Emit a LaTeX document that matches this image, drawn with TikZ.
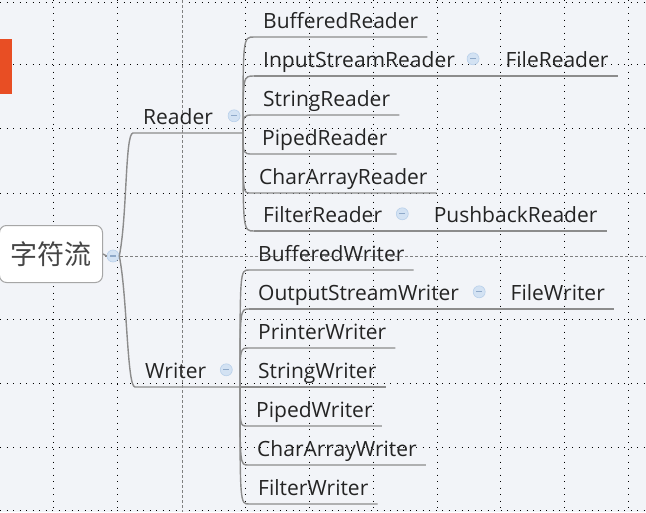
\documentclass[tikz,border=0pt]{standalone}
\usepackage{fontspec}
\setmainfont{Open Sans}
\newfontfamily\cjkfont{Noto Sans CJK SC}
\usetikzlibrary{calc,positioning}
\definecolor{bgcol}{HTML}{F2F4F8}
\definecolor{linecol}{HTML}{8C8C8C}
\definecolor{foldcol}{HTML}{D3E2F3}
\definecolor{foldline}{HTML}{B9D0EA}
\definecolor{minuscol}{HTML}{8FA9C9}
\definecolor{markcol}{HTML}{E84E24}
\definecolor{textcol}{HTML}{242424}
\begin{document}
\begin{tikzpicture}[
        x=1pt, y=-1pt,
        topic/.style={anchor=south west, font=\fontsize{21}{21}\selectfont, text=textcol,
            inner xsep=9pt, inner ysep=3pt, text height=15pt, text depth=5pt},
        roottopic/.style={draw=gray!70, fill=white, rounded corners=7pt, line width=1pt,
            minimum width=103pt, minimum height=57pt, inner sep=0pt, text=textcol!85,
            font=\cjkfont\fontsize{27}{27}\selectfont},
        branch/.style={draw=linecol, line width=1.4pt},
        fold/.style={circle, fill=foldcol, draw=foldline, line width=0.6pt, minimum size=12pt, inner sep=0pt,
            path picture={\draw[minuscol, line width=1.2pt]
                ([xshift=-3pt]path picture bounding box.center) -- ([xshift=3pt]path picture bounding box.center);}},
        gridline/.style={black, line width=1pt, dash pattern=on 1pt off 5.5pt},
        axisline/.style={gray, line width=0.7pt, dash pattern=on 3pt off 2pt}
    ]
        % Background and grid
        \fill[bgcol] (0,0) rectangle (646,512);
        \useasboundingbox (0,0) rectangle (646,512);
        \foreach \gx in {53,117,245,309,373,437,500,564,628}
            \draw[gridline] (\gx,0) -- (\gx,512);
        \foreach \gy in {2,64,128,193,319,383,447,510}
            \draw[gridline] (0,\gy) -- (646,\gy);
        \draw[axisline] (182,0) -- (182,512);
        \draw[axisline] (0,256) -- (646,256);
        \fill[markcol] (0,39) rectangle (12,94);

        % Root
        \node[roottopic] (root) at (51,254) {字符流};
        \node[fold] (rootfold) at (113,256) {};
        \draw[branch] (root.east) -- (rootfold.west);

        % Main branches
        \node[topic, inner xsep=10pt] (reader) at (133,133) {Reader};
        \node[topic, inner xsep=10pt] (writer) at (135,387) {Writer};
        \node[fold] (readerfold) at ([xshift=11pt,yshift=4pt]reader.east) {};
        \node[fold] (writerfold) at ([xshift=10pt,yshift=4pt]writer.east) {};
        \coordinate (readerj) at (243,133);
        \coordinate (writerj) at (240,387);
        \draw[branch] (rootfold.east) .. controls +(8,-40) and +(-8,0) .. (reader.south west) -- (readerj);
        \draw[branch] (rootfold.east) .. controls +(8,40) and +(-8,0) .. (writer.south west) -- (writerj);

        % Reader children
        \foreach \nm/\px/\py/\lbl in {rb/254/37/BufferedReader, ri/254/76/InputStreamReader,
                rs/254/115/StringReader, rp/253/154/PipedReader,
                rc/250/193/CharArrayReader, rf/254/231/FilterReader}
            \node[topic] (\nm) at (\px,\py) {\lbl};
        \foreach \nm in {rb,ri,rs,rp,rc,rf}
            \draw[branch] (readerj) .. controls (readerj |- \nm.south west) .. (\nm.south west) -- (\nm.south east);

        % Writer children
        \foreach \nm/\px/\py/\lbl in {wb/249/270/BufferedWriter, wo/249/309/OutputStreamWriter,
                wp/249/348/PrinterWriter, ws/249/387/StringWriter, wi/247/426/PipedWriter,
                wc/248/465/CharArrayWriter, wf/249/504/FilterWriter}
            \node[topic] (\nm) at (\px,\py) {\lbl};
        \foreach \nm in {wb,wo,wp,ws,wi,wc,wf}
            \draw[branch] (writerj) .. controls (writerj |- \nm.south west) .. (\nm.south west) -- (\nm.south east);

        % Sub-branches
        \node[fold] (rifold) at ([xshift=9pt,yshift=4pt]ri.east) {};
        \node[topic, xshift=17pt] (rifile) at (rifold.east |- ri.south) {FileReader};
        \draw[branch] (ri.south west) -- (rifile.south east);

        \node[fold] (rffold) at ([xshift=11pt,yshift=4pt]rf.east) {};
        \node[topic, xshift=16pt] (rfpush) at (rffold.east |- rf.south) {PushbackReader};
        \draw[branch] (rf.south west) -- (rfpush.south east);

        \node[fold] (wofold) at ([xshift=11pt,yshift=4pt]wo.east) {};
        \node[topic, xshift=16pt] (wofile) at (wofold.east |- wo.south) {FileWriter};
        \draw[branch] (wo.south west) -- (wofile.south east);
    \end{tikzpicture}
\end{document}
